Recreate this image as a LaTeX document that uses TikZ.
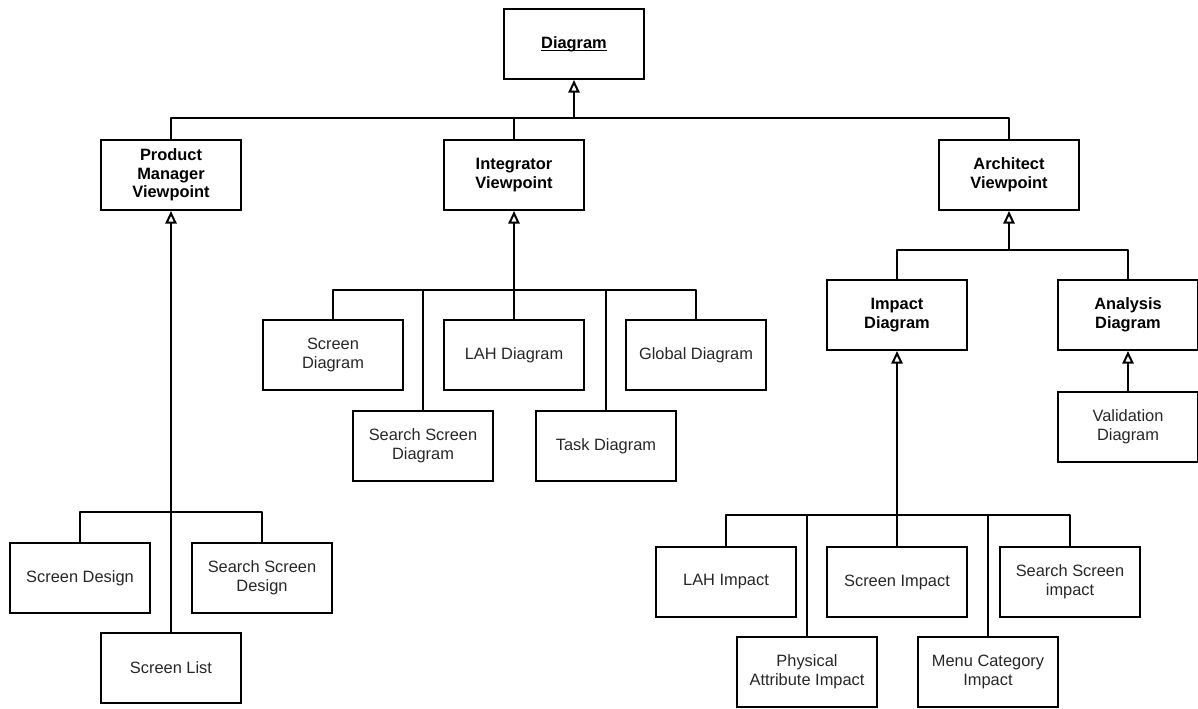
\documentclass[tikz,border=0pt]{standalone}
\usepackage{fontspec}
\setmainfont{Liberation Sans}
\usetikzlibrary{arrows.meta}

% underline that sits just below the baseline
\newcommand{\lowuline}[1]{\setbox0\hbox{#1}\rlap{\rule[-1.8pt]{\wd0}{0.8pt}}\box0}

\tikzset{
  box/.style={draw, line width=1.5pt, minimum width=105pt, minimum height=52.5pt,
    inner sep=0pt, align=center, text=black!85,
    font=\fontsize{12.3}{14}\selectfont},
  bbox/.style={box, text=black, font=\fontsize{12.3}{14}\selectfont\bfseries},
  link/.style={line width=1.5pt, line join=round},
  gen/.style={link, -{Triangle[open, length=9.5pt, width=8.5pt]}},
}

\begin{document}
\begin{tikzpicture}[x=0.75pt, y=-0.75pt]
  \useasboundingbox (0,0) rectangle (1198,709);

  % root
  \node[bbox] (diag) at (574,44) {\lowuline{Diagram}};

  % viewpoints
  \node[bbox] (pm)   at (171,175)  {Product\\Manager\\Viewpoint};
  \node[bbox] (int)  at (514,175)  {Integrator\\Viewpoint};
  \node[bbox] (arch) at (1009,175) {Architect\\Viewpoint};

  % product manager diagrams
  \node[box] (sd)  at (80,578)  {Screen Design};
  \node[box] (ssd) at (262,578) {Search Screen\\Design};
  \node[box] (sl)  at (171,668) {Screen List};

  % integrator diagrams
  \node[box] (scd)  at (333,355) {Screen\\Diagram};
  \node[box] (lahd) at (514,355) {LAH Diagram};
  \node[box] (gd)   at (696,355) {Global Diagram};
  \node[box] (ssdg) at (423,446) {Search Screen\\Diagram};
  \node[box] (task) at (606,446) {Task Diagram};

  % architect diagrams
  \node[bbox] (impd) at (897,315)  {Impact\\Diagram};
  \node[bbox] (anal) at (1128,315) {Analysis\\Diagram};
  \node[box]  (val)  at (1128,427) {Validation\\Diagram};

  % impact diagrams
  \node[box] (lahi) at (726,582)  {LAH Impact};
  \node[box] (si)   at (897,582)  {Screen Impact};
  \node[box] (ssi)  at (1070,582) {Search Screen\\impact};
  \node[box] (pai)  at (807,672)  {Physical\\Attribute Impact};
  \node[box] (mci)  at (988,672)  {Menu Category\\Impact};

  % junction points of the generalization buses
  \coordinate (jtop)  at (574,118);
  \coordinate (jpm)   at (171,512);
  \coordinate (jint)  at (514,290);
  \coordinate (jarch) at (1009,250);
  \coordinate (jimp)  at (897,515);

  % viewpoints -> diagram
  \draw[link] (pm.north) |- (jtop) -| (arch.north);
  \draw[link] (int.north) -- (int.north |- jtop);
  \draw[gen] (jtop) -- (diag.south);

  % product manager tree
  \draw[link] (sd.north) |- (jpm) -| (ssd.north);
  \draw[gen] (sl.north) -- (pm.south);

  % integrator tree
  \draw[link] (scd.north) |- (jint) -| (gd.north);
  \draw[link] (ssdg.north) -- (ssdg.north |- jint);
  \draw[link] (task.north) -- (task.north |- jint);
  \draw[gen] (lahd.north) -- (int.south);

  % architect tree
  \draw[link] (impd.north) |- (jarch) -| (anal.north);
  \draw[gen] (jarch) -- (arch.south);
  \draw[gen] (val.north) -- (anal.south);

  % impact tree
  \draw[link] (lahi.north) |- (jimp) -| (ssi.north);
  \draw[link] (pai.north) -- (pai.north |- jimp);
  \draw[link] (mci.north) -- (mci.north |- jimp);
  \draw[gen] (si.north) -- (impd.south);
\end{tikzpicture}
\end{document}
